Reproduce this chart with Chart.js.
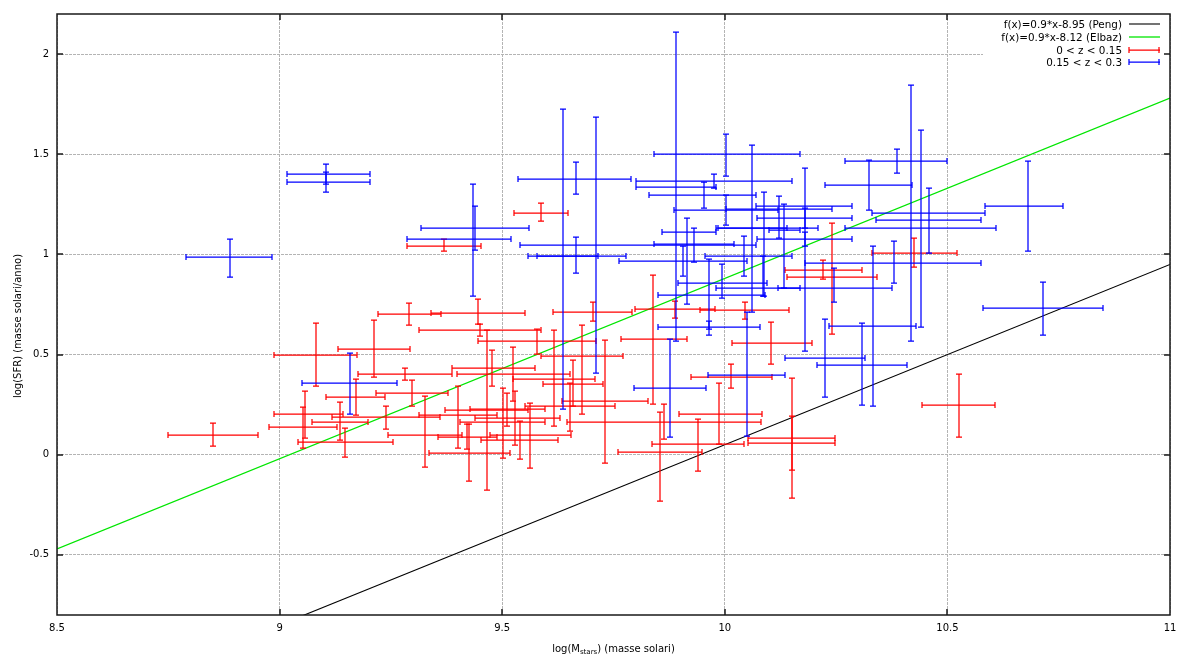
<!DOCTYPE html>
<html>
<head>
<meta charset="utf-8">
<script src="https://cdn.jsdelivr.net/npm/chart.js@4.4.1/dist/chart.umd.min.js"></script>
<style>
  html, body { margin: 0; padding: 0; background: #fff; }
  #contenitore { width: 1186px; height: 657px; }
</style>
</head>
<body>
<div id="contenitore"><canvas id="grafico_sfr"></canvas></div>
<script>
// assi
let xTicks = [8.5, 9, 9.5, 10, 10.5, 11];
let yTicks = [-0.5, 0, 0.5, 1, 1.5, 2];

// rette di riferimento f(x) = a*x + b
let peng = [0.9, -8.95];
let elbaz = [0.9, -8.12];
let estremiRette = [8.5, 11];

// 0 < z < 0.15
let rossoX = [8.85, 9.082, 9.212, 9.282, 9.172, 9.291, 9.446, 9.45, 9.578, 9.704, 9.297, 9.466, 9.401, 9.327, 9.053, 9.057, 9.136, 9.147, 9.425, 9.54, 9.563, 9.421, 9.529, 9.502, 9.511, 9.524, 9.616, 9.652, 9.659, 9.679, 9.477, 10.526, 10.151, 10.151, 9.987, 9.94, 9.855, 9.864, 9.839, 9.731, 10.014, 10.104, 9.888, 10.045, 10.425, 10.221, 10.241, 9.587, 9.239, 9.37];
let rossoY = [0.10, 0.498, 0.527, 0.403, 0.289, 0.701, 0.706, 0.622, 0.567, 0.711, 0.308, 0.224, 0.199, 0.0995, 0.204, 0.139, 0.164, 0.065, 0.01, 0.075, 0.0995, 0.09, 0.184, 0.164, 0.229, 0.403, 0.378, 0.244, 0.353, 0.4925, 0.433, 0.249, 0.085, 0.06, 0.204, 0.055, 0.015, 0.164, 0.577, 0.269, 0.388, 0.557, 0.726, 0.721, 1.005, 0.92, 0.886, 1.209, 0.189, 1.04];
let rossoXmin = [8.749, 8.987, 9.131, 9.176, 9.104, 9.221, 9.34, 9.313, 9.446, 9.614, 9.217, 9.372, 9.313, 9.244, 8.987, 8.976, 9.073, 9.041, 9.336, 9.452, 9.473, 9.356, 9.439, 9.405, 9.428, 9.399, 9.524, 9.551, 9.592, 9.587, 9.387, 10.443, 10.052, 10.052, 9.897, 9.837, 9.76, 9.646, 9.767, 9.634, 9.924, 10.016, 9.798, 9.944, 10.331, 10.135, 10.14, 9.527, 9.118, 9.286];
let rossoXmax = [8.952, 9.174, 9.293, 9.387, 9.237, 9.363, 9.551, 9.587, 9.711, 9.792, 9.378, 9.558, 9.488, 9.41, 9.142, 9.129, 9.199, 9.255, 9.518, 9.625, 9.655, 9.488, 9.63, 9.596, 9.596, 9.652, 9.709, 9.753, 9.726, 9.771, 9.574, 10.607, 10.248, 10.248, 10.084, 10.043, 9.949, 10.081, 9.915, 9.828, 10.106, 10.196, 9.978, 10.144, 10.522, 10.308, 10.342, 9.648, 9.36, 9.452];
let rossoYmin = [0.045, 0.343, 0.388, 0.373, 0.199, 0.647, 0.652, 0.592, 0.502, 0.667, 0.244, -0.174, 0.035, -0.06, 0.035, 0.085, 0.075, -0.01, -0.129, -0.02, -0.065, 0.03, 0.05, -0.015, 0.144, 0.269, 0.144, 0.119, 0.244, 0.204, 0.343, 0.09, -0.214, -0.075, 0.055, -0.08, -0.229, 0.08, 0.254, -0.04, 0.333, 0.453, 0.682, 0.677, 0.935, 0.876, 0.602, 1.169, 0.129, 1.015];
let rossoYmax = [0.159, 0.657, 0.672, 0.433, 0.378, 0.756, 0.776, 0.652, 0.627, 0.761, 0.373, 0.622, 0.343, 0.294, 0.239, 0.318, 0.264, 0.134, 0.154, 0.169, 0.259, 0.154, 0.318, 0.333, 0.308, 0.537, 0.622, 0.358, 0.473, 0.647, 0.522, 0.403, 0.383, 0.194, 0.358, 0.179, 0.214, 0.254, 0.896, 0.572, 0.453, 0.662, 0.766, 0.761, 1.08, 0.97, 1.159, 1.259, 0.244, 1.075];

// 0.15 < z < 0.3
let bluX = [8.889, 9.105, 9.105, 9.435, 9.44, 9.637, 9.665, 9.665, 9.71, 9.89, 10.003, 9.953, 10.003, 9.915, 9.158, 9.965, 9.965, 9.994, 10.085, 10.043, 9.906, 9.877, 10.05, 10.225, 10.308, 10.333, 10.418, 10.44, 10.458, 10.38, 10.245, 10.18, 10.18, 10.18, 10.122, 10.088, 10.133, 9.975, 10.06, 10.715, 10.68, 9.93, 10.325, 10.386];
let bluY = [0.985, 1.40, 1.36, 1.075, 1.13, 0.99, 1.378, 0.99, 1.045, 1.335, 1.50, 1.295, 1.22, 1.11, 0.358, 0.796, 0.637, 0.856, 0.83, 0.99, 0.965, 0.333, 0.40, 0.483, 0.45, 0.645, 1.205, 1.13, 1.17, 0.955, 0.83, 1.24, 1.18, 1.075, 1.225, 1.13, 1.12, 1.365, 1.13, 0.73, 1.24, 1.05, 1.348, 1.465];
let bluXmin = [8.79, 9.016, 9.016, 9.286, 9.318, 9.558, 9.535, 9.578, 9.54, 9.80, 9.84, 9.83, 9.885, 9.86, 9.05, 9.85, 9.85, 9.895, 9.98, 9.955, 9.763, 9.796, 9.962, 10.135, 10.207, 10.235, 10.33, 10.27, 10.34, 10.18, 10.12, 10.07, 10.073, 10.073, 10.003, 9.985, 10.10, 9.80, 9.98, 10.58, 10.585, 9.84, 10.225, 10.27];
let bluXmax = [8.983, 9.203, 9.203, 9.52, 9.56, 9.715, 9.79, 9.778, 10.07, 9.98, 10.17, 10.07, 10.12, 9.98, 9.264, 10.09, 10.08, 10.095, 10.17, 10.15, 10.05, 9.958, 10.135, 10.315, 10.41, 10.43, 10.585, 10.61, 10.575, 10.575, 10.375, 10.285, 10.286, 10.286, 10.24, 10.21, 10.17, 10.15, 10.14, 10.85, 10.76, 10.02, 10.42, 10.50];
let bluYmin = [0.886, 1.35, 1.31, 0.79, 1.02, 0.23, 1.30, 0.905, 0.41, 0.57, 1.39, 1.23, 1.145, 0.75, 0.204, 0.627, 0.60, 0.78, 0.79, 0.89, 0.89, 0.09, 0.095, 0.29, 0.25, 0.245, 0.567, 0.637, 1.005, 0.855, 0.76, 0.52, 1.13, 1.04, 1.08, 0.79, 0.83, 1.33, 0.71, 0.60, 1.015, 0.96, 1.22, 1.405];
let bluYmax = [1.075, 1.45, 1.41, 1.35, 1.24, 1.725, 1.46, 1.085, 1.685, 2.11, 1.60, 1.36, 1.295, 1.18, 0.507, 0.975, 0.67, 0.95, 0.99, 1.09, 1.04, 0.577, 0.71, 0.677, 0.657, 1.04, 1.845, 1.62, 1.33, 1.065, 0.93, 1.43, 1.23, 1.11, 1.29, 1.31, 1.25, 1.40, 1.545, 0.86, 1.467, 1.13, 1.47, 1.525];

let font = 'DejaVu Sans';
let cap = 3;
let spessore = 1.25;

function punti(xs, ys) {
    return xs.map((v, i) => ({x: v, y: ys[i]}));
}

function retta(c) {
    return estremiRette.map(v => ({x: v, y: c[0] * v + c[1]}));
}

let datos = {
    datasets: [
        {label: 'f(x)=0.9*x-8.95 (Peng)', type: 'line', data: retta(peng),
            borderColor: '#000000', borderWidth: 1.1, pointRadius: 0, tension: 0},
        {label: 'f(x)=0.9*x-8.12 (Elbaz)', type: 'line', data: retta(elbaz),
            borderColor: '#00e600', borderWidth: 1.3, pointRadius: 0, tension: 0},
        {label: '0 < z < 0.15', data: punti(rossoX, rossoY), pointRadius: 0,
            borderColor: '#ff0000', barre: true,
            err: [rossoXmin, rossoXmax, rossoYmin, rossoYmax]},
        {label: '0.15 < z < 0.3', data: punti(bluX, bluY), pointRadius: 0,
            borderColor: '#0000ff', barre: true,
            err: [bluXmin, bluXmax, bluYmin, bluYmax]}
    ]
};

function px(v) { return Math.round(v); }

// una croce per punto: barra in x, barra in y, trattini alle estremita
function croce(ctx, colore, cx, cy, l, r, t, b) {
    ctx.strokeStyle = colore;
    ctx.beginPath();
    ctx.moveTo(l, cy); ctx.lineTo(r, cy);
    ctx.moveTo(l, cy - cap); ctx.lineTo(l, cy + cap);
    ctx.moveTo(r, cy - cap); ctx.lineTo(r, cy + cap);
    ctx.moveTo(cx, t); ctx.lineTo(cx, b);
    ctx.moveTo(cx - cap, t); ctx.lineTo(cx + cap, t);
    ctx.moveTo(cx - cap, b); ctx.lineTo(cx + cap, b);
    ctx.stroke();
}

let barreErrore = {
    id: 'barreErrore',
    afterDatasetsDraw(chart) {
        let {ctx, chartArea: a, scales: {x, y}} = chart;
        ctx.save();
        ctx.beginPath();
        ctx.rect(a.left, a.top, a.right - a.left, a.bottom - a.top);
        ctx.clip();
        ctx.lineWidth = spessore;
        ctx.setLineDash([]);
        chart.data.datasets.forEach(ds => {
            if (!ds.barre) return;
            let [x0, x1, y0, y1] = ds.err;
            ds.data.forEach((p, i) => {
                croce(ctx, ds.borderColor,
                    px(x.getPixelForValue(p.x)), px(y.getPixelForValue(p.y)),
                    px(x.getPixelForValue(x0[i])), px(x.getPixelForValue(x1[i])),
                    px(y.getPixelForValue(y1[i])), px(y.getPixelForValue(y0[i])));
            });
        });
        ctx.restore();
    }
};

// cornice, tacche interne, titoli degli assi e legenda
let cornice = {
    id: 'cornice',
    beforeDatasetsDraw(chart) {
        let {ctx, chartArea: a} = chart;
        ctx.save();
        ctx.fillStyle = '#fff';
        ctx.fillRect(983, a.top + 1, a.right - 984, 58);
        ctx.restore();
    },
    afterDraw(chart) {
        let {ctx, chartArea: a, scales: {x, y}} = chart;
        let L = Math.round(a.left), R = Math.round(a.right), T = Math.round(a.top), B = Math.round(a.bottom);
        ctx.save();
        ctx.setLineDash([]);
        ctx.strokeStyle = '#1a1a1a';
        ctx.lineWidth = 1.5;
        ctx.beginPath();
        ctx.rect(L, T, R - L, B - T);
        xTicks.forEach(v => {
            let p = px(x.getPixelForValue(v));
            ctx.moveTo(p, B); ctx.lineTo(p, B - 6);
            ctx.moveTo(p, T); ctx.lineTo(p, T + 6);
        });
        yTicks.forEach(v => {
            let p = px(y.getPixelForValue(v));
            ctx.moveTo(L, p); ctx.lineTo(L + 6, p);
            ctx.moveTo(R, p); ctx.lineTo(R - 6, p);
        });
        ctx.stroke();

        // titolo asse x con pedice
        ctx.fillStyle = '#000';
        ctx.textBaseline = 'alphabetic';
        let f1 = '10px "' + font + '"', f2 = '7px "' + font + '"';
        let p1 = 'log(M', p2 = 'stars', p3 = ') (masse solari)';
        ctx.font = f1;
        let w1 = ctx.measureText(p1).width, w3 = ctx.measureText(p3).width;
        ctx.font = f2;
        let w2 = ctx.measureText(p2).width;
        let sx = (a.left + a.right) / 2 - (w1 + w2 + w3) / 2, by = 652;
        ctx.font = f1;
        ctx.textAlign = 'left';
        ctx.fillText(p1, sx, by);
        ctx.font = f2;
        ctx.fillText(p2, sx + w1, by + 2);
        ctx.font = f1;
        ctx.fillText(p3, sx + w1 + w2, by);

        // titolo asse y
        ctx.save();
        ctx.translate(21, 326);
        ctx.rotate(-Math.PI / 2);
        ctx.textAlign = 'center';
        ctx.fillText('log(SFR) (masse solari/anno)', 0, 0);
        ctx.restore();

        // legenda
        let righe = [24, 37, 50, 62];
        ctx.font = '10.4px "' + font + '"';
        chart.data.datasets.forEach((ds, i) => {
            let ry = righe[i];
            ctx.fillStyle = '#000';
            ctx.textAlign = 'right';
            ctx.textBaseline = 'middle';
            ctx.fillText(ds.label, 1122, ry + 1);
            ctx.strokeStyle = ds.borderColor;
            ctx.lineWidth = ds.barre ? spessore : ds.borderWidth;
            ctx.beginPath();
            ctx.moveTo(1129, ry); ctx.lineTo(1160, ry);
            if (ds.barre) {
                ctx.moveTo(1129, ry - cap); ctx.lineTo(1129, ry + cap);
                ctx.moveTo(1159, ry - cap); ctx.lineTo(1159, ry + cap);
            }
            ctx.stroke();
        });
        ctx.restore();
    }
};

let opciones = {
    responsive: true,
    maintainAspectRatio: false,
    animation: false,
    layout: {padding: {top: 12, right: 16, left: 0, bottom: 0}},
    scales: {
        x: {
            type: 'linear', min: 8.5, max: 11,
            afterBuildTicks: s => { s.ticks = xTicks.map(v => ({value: v})); },
            afterFit: s => { s.height = 42; },
            grid: {color: '#b4b4b4', lineWidth: 1, drawTicks: false},
            border: {display: false, dash: [3, 1]},
            ticks: {color: '#000', padding: 7, maxRotation: 0,
                font: {family: font, size: 10}, callback: v => String(v)}
        },
        y: {
            type: 'linear', min: -0.8, max: 2.2,
            afterBuildTicks: s => { s.ticks = yTicks.map(v => ({value: v})); },
            afterFit: s => { s.width = 57; },
            grid: {color: '#b4b4b4', lineWidth: 1, drawTicks: false},
            border: {display: false, dash: [3, 1]},
            ticks: {color: '#000', padding: 8,
                font: {family: font, size: 10}, callback: v => String(v)}
        }
    },
    plugins: {
        legend: {display: false},
        title: {display: false},
        tooltip: {enabled: false}
    }
};

let grafico = new Chart(document.getElementById('grafico_sfr'), {
    type: 'scatter',
    data: datos,
    options: opciones,
    plugins: [barreErrore, cornice]
});
</script>
</body>
</html>
